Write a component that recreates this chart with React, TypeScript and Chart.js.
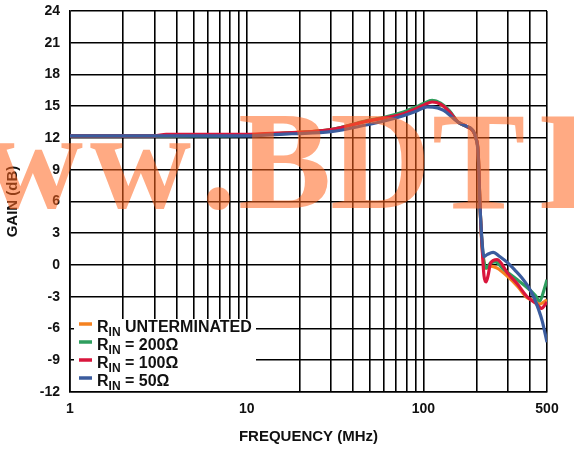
import React, { useEffect, useRef } from 'react';
import { Chart, registerables } from 'chart.js';

Chart.register(...registerables);

// ---- axis definitions ----
const X_TICKS = [1, 2, 3, 4, 5, 6, 7, 8, 9, 10, 20, 30, 40, 50, 60, 70, 80, 90, 100, 200, 300, 400, 500];
const X_LABELS = [1, 10, 100, 500];
const Y_MIN = -12;
const Y_MAX = 24;
const Y_STEP = 3;

// ---- series ----
const SERIES_NAMES = [' UNTERMINATED', ' = 200Ω', ' = 100Ω', ' = 50Ω'];
const SERIES_COLORS = ['#F58220', '#2E9E5E', '#D9163C', '#3B5C9E'];

const FREQ_UNTERM = [1, 3, 5, 10, 12, 18, 30, 48, 60, 77, 90, 100, 112, 125, 140, 157, 175, 190, 198, 204, 209, 215, 220, 226, 240, 261, 300, 340, 386, 430, 455, 480, 500];
const GAIN_UNTERM = [12.2, 12.2, 12.25, 12.3, 12.35, 12.5, 12.8, 13.6, 13.9, 14.35, 14.8, 15.2, 15.5, 15.2, 14.5, 13.5, 13.1, 12.7, 12.0, 10.6, 5.5, 1.5, 0.2, -0.3, -0.1, -0.3, -1.1, -2.0, -3.1, -3.4, -3.7, -3.5, -3.3];

const FREQ_200 = [1, 3, 5, 10, 12, 18, 30, 48, 60, 77, 90, 100, 112, 125, 140, 157, 175, 190, 198, 204, 209, 215, 220, 226, 240, 255, 280, 300, 340, 390, 430, 455, 480, 500];
const GAIN_200 = [12.2, 12.2, 12.2, 12.25, 12.3, 12.5, 12.8, 13.65, 13.95, 14.45, 14.9, 15.25, 15.55, 15.3, 14.6, 13.5, 13.1, 12.7, 12.0, 10.6, 5.5, 1.8, 0.3, -0.3, 0.2, 0.3, -0.3, -0.7, -1.4, -2.2, -2.9, -3.4, -2.4, -1.4];

const FREQ_100 = [1, 3, 3.5, 5, 10, 12, 18, 30, 48, 60, 77, 90, 100, 112, 125, 140, 157, 175, 190, 198, 204, 209, 215, 220, 226, 232, 240, 261, 300, 340, 386, 430, 468, 485, 500];
const GAIN_100 = [12.2, 12.2, 12.35, 12.35, 12.35, 12.4, 12.5, 12.8, 13.6, 13.9, 14.3, 14.75, 15.1, 15.4, 15.2, 14.5, 13.5, 13.1, 12.7, 12.0, 10.6, 5.5, 1.5, -1.0, -1.6, -1.0, 0.2, 0.5, -0.8, -1.8, -3.0, -3.6, -4.1, -3.8, -3.5];

const FREQ_50 = [1, 5, 10, 12, 18, 30, 48, 60, 77, 90, 105, 120, 130, 140, 150, 157, 170, 190, 198, 204, 209, 215, 220, 230, 248, 270, 300, 330, 360, 390, 420, 450, 470, 500];
const GAIN_50 = [12.2, 12.2, 12.2, 12.25, 12.4, 12.6, 13.25, 13.6, 14.1, 14.5, 14.95, 14.85, 14.6, 14.2, 13.75, 13.5, 13.2, 12.75, 12.0, 10.4, 5.5, 2.0, 0.8, 1.0, 1.2, 0.8, 0.2, -0.5, -1.2, -2.0, -3.0, -4.3, -5.3, -7.3];

const SERIES_FREQ = [FREQ_UNTERM, FREQ_200, FREQ_100, FREQ_50];
const SERIES_GAIN = [GAIN_UNTERM, GAIN_200, GAIN_100, GAIN_50];

const WATERMARK = 'www.BDTIC.com';

const FONT = '"Liberation Sans", Arial, Helvetica, sans-serif';

const legendPlugin = {
  id: 'customLegend',
  afterDatasetsDraw(chart: any) {
    const { ctx, chartArea } = chart;
    ctx.save();
    ctx.fillStyle = '#fff';
    ctx.fillRect(chartArea.left + 4, 319, 256 - chartArea.left - 4, chartArea.bottom - 319 - 1);
    SERIES_NAMES.forEach((name, i) => {
      const ly = 324 + i * 18;
      ctx.strokeStyle = SERIES_COLORS[i];
      ctx.lineWidth = 3.5;
      ctx.beginPath();
      ctx.moveTo(79, ly);
      ctx.lineTo(92, ly);
      ctx.stroke();
      const by = ly + 8;
      ctx.fillStyle = '#111';
      ctx.textBaseline = 'alphabetic';
      ctx.textAlign = 'left';
      ctx.font = `bold 16px ${FONT}`;
      let x = 97;
      ctx.fillText('R', x, by);
      x += ctx.measureText('R').width;
      ctx.font = `bold 12px ${FONT}`;
      ctx.fillText('IN', x, by + 4);
      x += ctx.measureText('IN').width;
      ctx.font = `bold 16px ${FONT}`;
      ctx.fillText(name, x, by);
    });
    ctx.restore();
  },
};

const watermarkPlugin = {
  id: 'watermark',
  afterDraw(chart: any) {
    const { ctx } = chart;
    ctx.save();
    ctx.font = 'bold 140px "Liberation Serif", "Times New Roman", serif';
    ctx.fillStyle = 'rgba(255, 100, 30, 0.55)';
    ctx.textBaseline = 'alphabetic';
    ctx.textAlign = 'left';
    const starts = [-128, -18, 90, 201, 238, 330, 432, 537, 590];
    for (let i = 0; i < starts.length; i++) {
      ctx.fillText(WATERMARK[i], starts[i], 208);
    }
    ctx.restore();
  },
};

export default function App() {
  const ref = useRef<HTMLCanvasElement>(null);

  useEffect(() => {
    document.body.style.margin = '0';
    const canvas = ref.current;
    if (!canvas) return;
    const datasets = SERIES_NAMES.map((name, i) => ({
      label: 'RIN' + name,
      data: SERIES_FREQ[i].map((f, j) => ({ x: f, y: SERIES_GAIN[i][j] })),
      borderColor: SERIES_COLORS[i],
      backgroundColor: SERIES_COLORS[i],
      borderWidth: 3.2,
      pointRadius: 0,
      cubicInterpolationMode: 'monotone' as const,
      fill: false,
      order: 3 - i,
    }));
    const chart = new Chart(canvas, {
      type: 'line',
      data: { datasets },
      options: {
        animation: false,
        responsive: false,
        maintainAspectRatio: false,
        layout: { padding: { left: 0, top: 11, right: 27, bottom: 0 } },
        plugins: {
          legend: { display: false },
          tooltip: { enabled: false },
        },
        scales: {
          x: {
            type: 'logarithmic',
            min: 1,
            max: 500,
            afterBuildTicks: (s: any) => {
              s.ticks = X_TICKS.map((v) => ({ value: v }));
            },
            afterFit: (s: any) => {
              s.height = 57;
              s.paddingLeft = 0;
              s.paddingRight = 0;
            },
            grid: { color: '#000', lineWidth: 1.6, drawTicks: false, tickLength: 0 },
            border: { display: true, color: '#000', width: 1.6 },
            ticks: {
              autoSkip: false,
              maxRotation: 0,
              padding: 9,
              color: '#111',
              font: { family: FONT, size: 14, weight: 'bold' },
              callback: (v: any) => (X_LABELS.includes(Number(v)) ? String(v) : ''),
            },
            title: {
              display: true,
              text: 'FREQUENCY (MHz)',
              color: '#111',
              font: { family: FONT, size: 15, weight: 'bold' },
              padding: { top: 4, bottom: 3 },
            },
          },
          y: {
            type: 'linear',
            min: Y_MIN,
            max: Y_MAX,
            afterFit: (s: any) => {
              s.width = 70;
              s.paddingTop = 0;
              s.paddingBottom = 0;
            },
            grid: { color: '#000', lineWidth: 1.6, drawTicks: false, tickLength: 0 },
            border: { display: true, color: '#000', width: 1.6 },
            ticks: {
              stepSize: Y_STEP,
              padding: 10,
              color: '#111',
              font: { family: FONT, size: 14, weight: 'bold' },
            },
            title: {
              display: true,
              text: 'GAIN (dB)',
              color: '#111',
              font: { family: FONT, size: 15, weight: 'bold' },
              padding: { top: 4, bottom: 4 },
            },
          },
        },
      },
      plugins: [legendPlugin, watermarkPlugin],
    });
    return () => chart.destroy();
  }, []);

  return (
    <div style={{ width: 574, height: 449 }}>
      <canvas ref={ref} width={574} height={449} style={{ display: 'block' }} />
    </div>
  );
}
